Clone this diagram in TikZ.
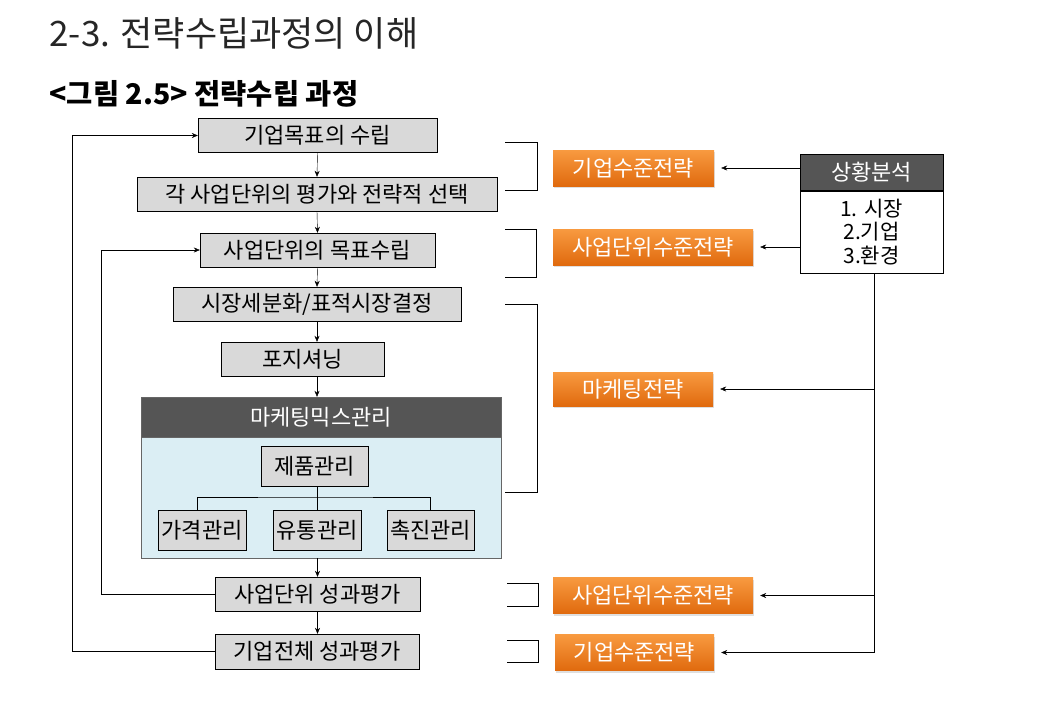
\documentclass[tikz,border=0pt]{standalone}
\usepackage{fontspec}
\setmainfont{Noto Sans CJK KR}
\usepackage{xcolor}
\usepackage{tikz}
\usetikzlibrary{arrows.meta,shadows,calc}

\definecolor{boxgray}{HTML}{D9D9D9}
\definecolor{headgray}{HTML}{555555}
\definecolor{mixblue}{HTML}{DBEEF4}
\definecolor{orangetop}{HTML}{F89A40}
\definecolor{orangebot}{HTML}{E06A0E}

\tikzset{
	stage/.style={draw,fill=boxgray,minimum height=34pt,inner sep=0pt,
		font=\fontsize{22}{24}\selectfont},
	subbox/.style={stage,minimum height=40pt},
	strat/.style={minimum height=36pt,inner sep=0pt,text=white,
		top color=orangetop,bottom color=orangebot,
		drop shadow={opacity=0.25,shadow xshift=1pt,shadow yshift=-2pt},
		font=\fontsize{22}{24}\selectfont},
	darkhead/.style={fill=headgray,text=white,inner sep=0pt,
		font=\fontsize{22}{24}\selectfont},
	feed/.style={->,shorten >=7pt}
}

\begin{document}
\begin{tikzpicture}[x=1pt,y=-1pt,>={Stealth[length=6pt,width=5pt]}]
	\useasboundingbox (0,0) rectangle (1040,720);

	\node[anchor=base west,font=\fontsize{35}{35}\selectfont,text=black!85] (title) at (46,46) {2-3. 전략수립과정의 이해};
	\node[anchor=base west,font=\fontsize{28.5}{28.5}\selectfont\bfseries] (fig) at (46,104) {<그림 2.5> 전략수립 과정};

	% main flow
	\node[stage,minimum width=239pt] (goal) at (317.5,135.5) {기업목표의 수립};
	\node[stage,minimum width=360pt] (eval) at (317,194) {각 사업단위의 평가와 전략적 선택};
	\node[stage,minimum width=235pt] (buGoal) at (317.5,250) {사업단위의 목표수립};
	\node[stage,minimum width=288pt] (seg) at (317,304) {시장세분화/표적시장결정};
	\node[stage,minimum width=163pt] (pos) at (302.5,359) {포지셔닝};

	\node[draw=black!60,fill=mixblue,minimum width=360pt,minimum height=121pt,inner sep=0pt] (mixBody) at (321,497.5) {};
	\node[darkhead,draw=black!60,minimum width=360pt,minimum height=40pt] (mix) at (321,417) {마케팅믹스관리};
	\node[subbox,minimum width=107pt] (prod) at (314.5,466) {제품관리};
	\node[subbox,minimum width=88pt] (price) at (202,530) {가격관리};
	\node[subbox,minimum width=88pt] (place) at (317,530) {유통관리};
	\node[subbox,minimum width=87pt] (promo) at (430.5,530) {촉진관리};

	\node[stage,minimum width=205pt] (buEval) at (317.5,594) {사업단위 성과평가};
	\node[stage,minimum width=204pt,minimum height=35pt] (corpEval) at (317,651.5) {기업전체 성과평가};

	\draw[->] (goal.south) -- (eval.north);
	\draw[->] (eval.south) -- (buGoal.north);
	\draw[->] (buGoal.south) -- (seg.north);
	\draw[->] (seg.south) -- (seg.south |- pos.north);
	\draw[->] (seg.south |- pos.south) -- (seg.south |- mix.north);
	\draw[->] (buEval.north |- mixBody.south) -- (buEval.north);
	\draw[->] (buEval.south) -- (buEval.south |- corpEval.north);

	\draw (place.north |- prod.south) -- (place.north);
	\draw ([xshift=-5pt]price.north) |- (place.north |- 0,497) -| (promo.north);

	% feedback
	\draw[->] (buEval.west) -- ++(-114,0) |- (buGoal.west);
	\draw[->] (corpEval.west) -- ++(-143,0) |- (goal.west);

	% brackets
	\draw (505,142) -| (537,190) -- (505,190);
	\draw (505,229) -| (536,277) -- (505,277);
	\draw (505,304) -| (537,492) -- (505,492);
	\draw (507,583) -| (538,606) -- (507,606);
	\draw (507,640) -| (538,662) -- (507,662);

	% strategy levels
	\node[strat,minimum width=161pt] (corpS1) at (633.5,168) {기업수준전략};
	\node[strat,minimum width=200pt] (buS1) at (653,247) {사업단위수준전략};
	\node[strat,minimum width=160pt,minimum height=34pt] (mktS) at (633,389) {마케팅전략};
	\node[strat,minimum width=200pt] (buS2) at (653,595.5) {사업단위수준전략};
	\node[strat,minimum width=159pt] (corpS2) at (634.5,652.5) {기업수준전략};

	% situation analysis
	\node[darkhead,draw,minimum width=143pt,minimum height=36pt] (sit) at (871.5,172) {상황분석};
	\node[draw,fill=white,minimum width=143pt,minimum height=82pt,inner sep=0pt,align=center,
		font=\fontsize{21}{23.5}\selectfont] (sitList) at (871.5,232) {1. 시장\\2.기업\\3.환경};

	\coordinate (vTop) at ($(sitList.south)+(2.5,0)$);
	\coordinate (vBot) at (vTop |- corpS2.east);
	\draw (vTop) -- (vBot);

	\draw[feed] (corpS1.east -| sit.west) -- (corpS1.east);
	\draw[feed] (buS1.east -| sitList.west) -- (buS1.east);
	\foreach \s in {mktS,buS2,corpS2}
		\draw[feed] (\s.east -| vTop) -- (\s.east);
\end{tikzpicture}
\end{document}
